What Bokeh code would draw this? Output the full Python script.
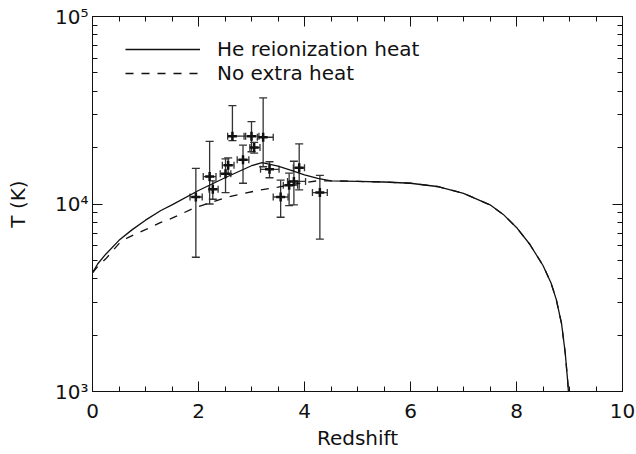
from bokeh.plotting import figure
from bokeh.models import (FixedTicker, LinearAxis, LogAxis, Whisker, TeeHead,
                          ColumnDataSource, Legend, LegendItem)
from bokeh.embed import file_html
from bokeh.resources import INLINE

# ---- model curves ----
z_he = [0.0, 0.1, 0.25, 0.5, 0.75, 1.0, 1.29, 1.5, 2.0, 2.5, 3.0, 3.2, 3.5, 3.75, 4.0,
        4.25, 4.5, 5.0, 5.5, 6.0, 6.5, 7.0, 7.5, 7.75, 8.0, 8.25, 8.5, 8.65, 8.75, 8.85,
        8.92, 8.97, 9.0]
T_he = [4300, 4800, 5400, 6400, 7300, 8200, 9230, 9900, 11800, 13800, 16000, 16600, 15900,
        15100, 14300, 13700, 13300, 13200, 13100, 12900, 12400, 11400, 9900, 8800, 7500,
        6100, 4700, 3800, 3100, 2300, 1600, 1100, 800]

z_no = [0.0, 0.1, 0.25, 0.5, 0.66, 1.0, 1.29, 1.5, 1.92, 2.5, 3.17, 3.5, 3.75, 4.0, 4.25,
        4.5, 5.0, 5.5, 6.0, 6.5, 7.0, 7.5, 7.75, 8.0, 8.25, 8.5, 8.65, 8.75, 8.85, 8.92,
        8.97, 9.0]
T_no = [4300, 4650, 5100, 6150, 6600, 7300, 7980, 8400, 9530, 10800, 11900, 12300, 12700,
        13000, 13300, 13300, 13200, 13100, 12900, 12400, 11400, 9900, 8800, 7500, 6100,
        4700, 3800, 3100, 2300, 1600, 1100, 800]

# ---- measurements ----
obs_z = [1.95, 2.21, 2.27, 2.51, 2.56, 2.64, 2.84, 3.00, 3.05, 3.22, 3.34, 3.55, 3.71, 3.80, 3.90, 4.29]
obs_T = [10900, 14000, 12000, 14500, 16100, 23000, 17200, 23000, 20000, 22700, 15300, 10900,
         12600, 13200, 15600, 11500]
obs_T_hi = [15500, 21600, 13300, 17400, 17600, 33500, 20600, 27500, 21300, 36800, 16800, 13400,
            14600, 16900, 20900, 14200]
obs_T_lo = [5200, 10000, 10600, 11500, 14500, 21800, 12900, 19000, 18700, 15800, 13800, 8500,
            9800, 9900, 11900, 6500]
obs_z_lo = [1.84, 2.09, 2.20, 2.41, 2.45, 2.55, 2.73, 2.86, 2.97, 3.11, 3.17, 3.41, 3.60, 3.68, 3.79, 4.15]
obs_z_hi = [2.07, 2.33, 2.37, 2.61, 2.67, 2.89, 2.95, 3.14, 3.16, 3.41, 3.52, 3.69, 3.87, 4.02, 4.00, 4.43]

x_major = [0, 2, 4, 6, 8, 10]
x_minor = [0.5, 1, 1.5, 2.5, 3, 3.5, 4.5, 5, 5.5, 6.5, 7, 7.5, 8.5, 9, 9.5]
y_major = [1000, 10000, 100000]
y_minor = [2000, 3000, 4000, 5000, 6000, 7000, 8000, 9000,
           20000, 30000, 40000, 50000, 60000, 70000, 80000, 90000]
y_labels = {1000: "10\u00b3", 10000: "10\u2074", 100000: "10\u2075"}

FONT = "DejaVu Sans"
FS = "20px"
INK = "#111111"

p = figure(width=636, height=454, output_backend="svg", toolbar_location=None,
           x_range=(0, 10), y_range=(1000, 100000), y_axis_type="log",
           min_border_left=92, min_border_right=14, min_border_top=16, min_border_bottom=63)
p.background_fill_color = "white"
p.border_fill_color = "white"
p.grid.visible = False
p.outline_line_color = INK

def style_axis(ax, ticks, minor, labels=True):
    ax.ticker = FixedTicker(ticks=ticks, minor_ticks=minor)
    ax.major_tick_in = 10
    ax.major_tick_out = 0
    ax.minor_tick_in = 5
    ax.minor_tick_out = 0
    ax.axis_line_color = INK
    ax.major_tick_line_color = INK
    ax.minor_tick_line_color = INK
    ax.major_label_text_font = FONT
    ax.major_label_text_font_size = FS
    ax.major_label_text_color = INK
    ax.axis_label_text_font = FONT
    ax.axis_label_text_font_size = FS
    ax.axis_label_text_font_style = "normal"
    ax.axis_label_text_color = INK
    if not labels:
        ax.major_label_overrides = {t: "" for t in ticks}

xa = p.xaxis[0]
style_axis(xa, x_major, x_minor)
xa.axis_label = "Redshift"
xa.major_label_standoff = 12
xa.axis_label_standoff = 5

ya = p.yaxis[0]
style_axis(ya, y_major, y_minor)
ya.major_label_overrides = y_labels
ya.axis_label = "T (K)"
ya.major_label_standoff = 4
ya.axis_label_standoff = 22

top = LinearAxis()
style_axis(top, x_major, x_minor, labels=False)
p.add_layout(top, "above")
right = LogAxis()
style_axis(right, y_major, y_minor, labels=False)
p.add_layout(right, "right")

r_he = p.line(z_he, T_he, line_color=INK, line_width=1.3)
r_no = p.line(z_no, T_no, line_color=INK, line_width=1.3, line_dash="8 8")

src = ColumnDataSource(dict(z=obs_z, T=obs_T, hi=obs_T_hi, lo=obs_T_lo,
                            zlo=obs_z_lo, zhi=obs_z_hi))
p.add_layout(Whisker(base="z", upper="hi", lower="lo", dimension="height", source=src,
                     line_color="#333333", line_width=1.3,
                     upper_head=TeeHead(size=8, line_color="#333333", line_width=1.3),
                     lower_head=TeeHead(size=8, line_color="#333333", line_width=1.3)))
p.add_layout(Whisker(base="T", upper="zhi", lower="zlo", dimension="width", source=src,
                     line_color="#333333", line_width=1.3,
                     upper_head=TeeHead(size=7, line_color="#333333", line_width=1.3),
                     lower_head=TeeHead(size=7, line_color="#333333", line_width=1.3)))
p.scatter("z", "T", source=src, marker="cross", size=9, line_width=2.5, line_color=INK)

legend = Legend(items=[LegendItem(label="He reionization heat", renderers=[r_he]),
                       LegendItem(label="No extra heat", renderers=[r_no])],
                location=(33, 306), orientation="vertical",
                glyph_width=75, glyph_height=20, label_height=20, label_standoff=17,
                spacing=0, padding=0, margin=0,
                border_line_color=None, background_fill_alpha=0,
                label_text_font=FONT, label_text_font_size=FS, label_text_color=INK)
p.add_layout(legend)

open("out.html", "w").write(file_html(p, INLINE))
